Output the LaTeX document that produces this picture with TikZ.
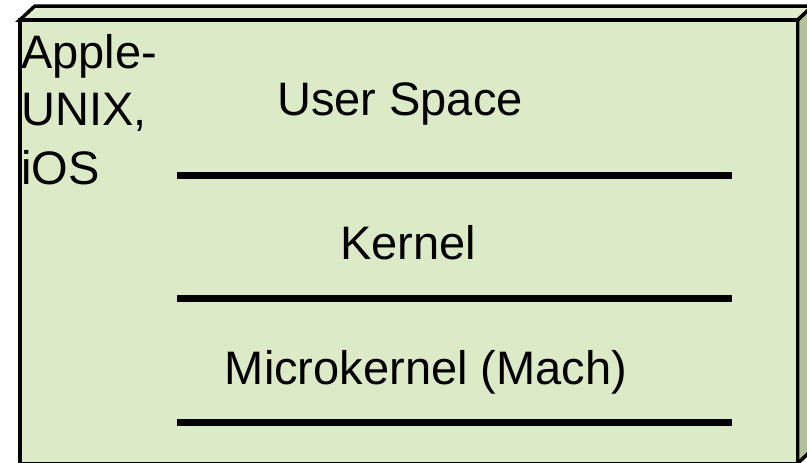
\documentclass[tikz,border=0pt]{standalone}
\usepackage{fontspec}
\setmainfont{Liberation Sans}
\definecolor{frontgreen}{RGB}{221,234,200}
\definecolor{topgreen}{RGB}{224,236,206}
\definecolor{sidegreen}{RGB}{178,193,156}
\tikzset{
  edge/.style={draw=black, line width=3.5pt, line join=miter},
  layerline/.style={draw=black, line width=7pt},
  lbl/.style={inner sep=0pt, anchor=base, font=\fontsize{47}{58}\selectfont},
  sidelbl/.style={inner sep=0pt, anchor=base west, font=\fontsize{47}{58}\selectfont},
}
\begin{document}
\begin{tikzpicture}[x=1pt,y=-1pt]
\useasboundingbox (0,0) rectangle (807,463);
\clip (0,0) rectangle (807,463);
% right face
\path[edge, fill=sidegreen] (797.5,20) -- (812.5,6) -- (812.5,449.5) -- (797.5,463.5) -- cycle;
% top face
\path[edge, fill=topgreen] (19.8,20) -- (34.8,6) -- (812.5,6) -- (797.5,20) -- cycle;
% front face
\path[edge, fill=frontgreen] (19.8,20) rectangle (797.5,463.8);
% labels
\node[sidelbl] (apple) at (21,68) {Apple-};
\node[sidelbl] (unix) at (21,125) {UNIX,};
\node[sidelbl] (ios) at (21,184) {iOS};
\node[lbl] (user) at (400,115) {User Space};
\node[lbl] (kernel) at (408,259) {Kernel};
\node[lbl] (micro) at (426,384) {Microkernel (Mach)};
% layer lines
\coordinate (l1a) at (177,175); \coordinate (l1b) at (732,175);
\coordinate (l2a) at (177,298); \coordinate (l2b) at (732,298);
\coordinate (l3a) at (177,422); \coordinate (l3b) at (732,422);
\draw[layerline] (l1a) -- (l1b);
\draw[layerline] (l2a) -- (l2b);
\draw[layerline] (l3a) -- (l3b);
\end{tikzpicture}
\end{document}
